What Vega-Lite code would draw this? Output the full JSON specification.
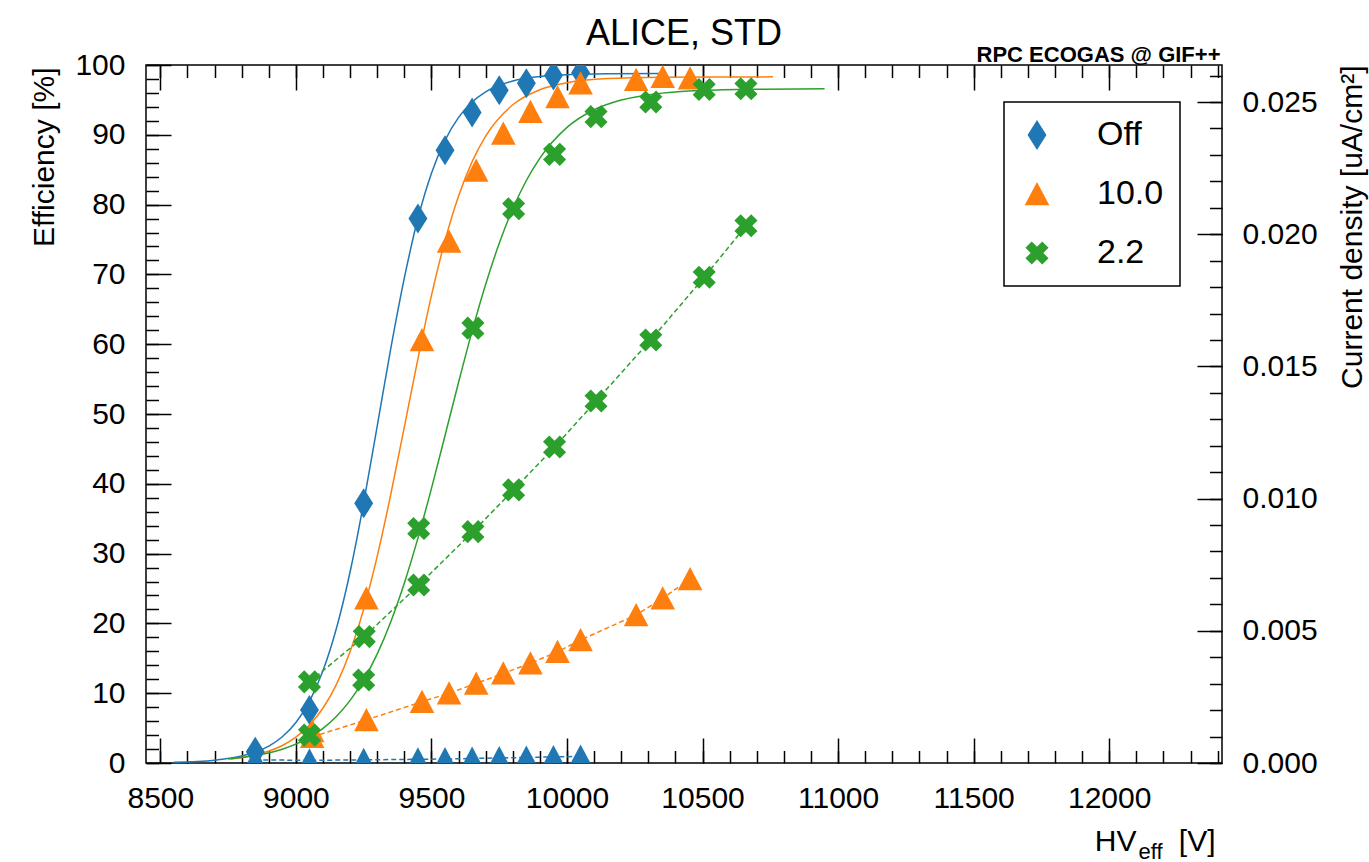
{
  "$schema": "https://vega.github.io/schema/vega-lite/v6.json",
  "width": 1076,
  "height": 698,
  "autosize": "none",
  "padding": {"left": 146, "top": 65, "right": 147, "bottom": 99},
  "background": "white",
  "title": {"text": "ALICE, STD", "fontSize": 36, "font": "Liberation Sans", "fontWeight": "normal", "frame": "group", "offset": -10, "anchor": "middle", "color": "black"},
  "config": {
    "view": {"stroke": "black", "strokeWidth": 1.5},
    "axis": {"grid": false, "domain": false, "tickColor": "black", "tickWidth": 1.5, "labelFont": "Liberation Sans", "labelFontSize": 30, "labelColor": "black", "titleFont": "Liberation Sans", "titleFontSize": 30, "titleFontWeight": "normal", "titleColor": "black", "labelFlush": false, "labelOverlap": false, "labelBound": false},
    "legend": {"orient": "none", "legendX": 858, "legendY": 37, "padding": 16, "strokeColor": "black", "strokeWidth": 1.5, "fillColor": "white", "labelFont": "Liberation Sans", "labelFontSize": 34, "labelColor": "black", "symbolSize": 900, "rowPadding": 25, "labelOffset": 43, "symbolStrokeWidth": 0, "symbolOpacity": 1}
  },
  "datasets": {
    "fit": [
      {"src": "Off", "hv": 8550, "eff": 0.10}, {"src": "Off", "hv": 8700, "eff": 0.40}, {"src": "Off", "hv": 8800, "eff": 0.99},
      {"src": "Off", "hv": 8900, "eff": 2.42}, {"src": "Off", "hv": 8950, "eff": 3.76}, {"src": "Off", "hv": 9000, "eff": 5.80},
      {"src": "Off", "hv": 9050, "eff": 8.84}, {"src": "Off", "hv": 9100, "eff": 13.24}, {"src": "Off", "hv": 9150, "eff": 19.37},
      {"src": "Off", "hv": 9200, "eff": 27.4}, {"src": "Off", "hv": 9250, "eff": 37.3}, {"src": "Off", "hv": 9300, "eff": 48.3},
      {"src": "Off", "hv": 9350, "eff": 59.4}, {"src": "Off", "hv": 9400, "eff": 69.5}, {"src": "Off", "hv": 9450, "eff": 78.0},
      {"src": "Off", "hv": 9500, "eff": 84.5}, {"src": "Off", "hv": 9550, "eff": 89.2}, {"src": "Off", "hv": 9600, "eff": 92.5},
      {"src": "Off", "hv": 9650, "eff": 94.7}, {"src": "Off", "hv": 9700, "eff": 96.16}, {"src": "Off", "hv": 9800, "eff": 97.72},
      {"src": "Off", "hv": 9900, "eff": 98.36}, {"src": "Off", "hv": 10000, "eff": 98.62}, {"src": "Off", "hv": 10150, "eff": 98.75},
      {"src": "Off", "hv": 10350, "eff": 98.79},
      {"src": "10.0", "hv": 8760, "eff": 0.56}, {"src": "10.0", "hv": 8850, "eff": 1.15}, {"src": "10.0", "hv": 8950, "eff": 2.51},
      {"src": "10.0", "hv": 9000, "eff": 3.71}, {"src": "10.0", "hv": 9050, "eff": 5.43}, {"src": "10.0", "hv": 9100, "eff": 7.88},
      {"src": "10.0", "hv": 9150, "eff": 11.31}, {"src": "10.0", "hv": 9200, "eff": 15.97}, {"src": "10.0", "hv": 9250, "eff": 22.06},
      {"src": "10.0", "hv": 9300, "eff": 29.64}, {"src": "10.0", "hv": 9350, "eff": 38.5}, {"src": "10.0", "hv": 9400, "eff": 48.17},
      {"src": "10.0", "hv": 9450, "eff": 57.9}, {"src": "10.0", "hv": 9500, "eff": 66.99}, {"src": "10.0", "hv": 9550, "eff": 74.84},
      {"src": "10.0", "hv": 9600, "eff": 81.23}, {"src": "10.0", "hv": 9650, "eff": 86.16}, {"src": "10.0", "hv": 9700, "eff": 89.82},
      {"src": "10.0", "hv": 9800, "eff": 94.30}, {"src": "10.0", "hv": 9900, "eff": 96.46}, {"src": "10.0", "hv": 10000, "eff": 97.46},
      {"src": "10.0", "hv": 10150, "eff": 98.05}, {"src": "10.0", "hv": 10350, "eff": 98.25}, {"src": "10.0", "hv": 10550, "eff": 98.29},
      {"src": "10.0", "hv": 10760, "eff": 98.3},
      {"src": "2.2", "hv": 8750, "eff": 0.56}, {"src": "2.2", "hv": 8850, "eff": 1.06}, {"src": "2.2", "hv": 8950, "eff": 1.98},
      {"src": "2.2", "hv": 9050, "eff": 3.67}, {"src": "2.2", "hv": 9100, "eff": 4.97}, {"src": "2.2", "hv": 9150, "eff": 6.70},
      {"src": "2.2", "hv": 9200, "eff": 8.97}, {"src": "2.2", "hv": 9250, "eff": 11.91}, {"src": "2.2", "hv": 9300, "eff": 15.63},
      {"src": "2.2", "hv": 9350, "eff": 20.25}, {"src": "2.2", "hv": 9400, "eff": 25.79}, {"src": "2.2", "hv": 9450, "eff": 32.22},
      {"src": "2.2", "hv": 9500, "eff": 39.35}, {"src": "2.2", "hv": 9550, "eff": 46.92}, {"src": "2.2", "hv": 9600, "eff": 54.55},
      {"src": "2.2", "hv": 9650, "eff": 61.88}, {"src": "2.2", "hv": 9700, "eff": 68.58}, {"src": "2.2", "hv": 9750, "eff": 74.46},
      {"src": "2.2", "hv": 9800, "eff": 79.41}, {"src": "2.2", "hv": 9850, "eff": 83.45}, {"src": "2.2", "hv": 9900, "eff": 86.66},
      {"src": "2.2", "hv": 10000, "eff": 91.06}, {"src": "2.2", "hv": 10100, "eff": 93.59}, {"src": "2.2", "hv": 10200, "eff": 94.98},
      {"src": "2.2", "hv": 10350, "eff": 95.97}, {"src": "2.2", "hv": 10500, "eff": 96.36}, {"src": "2.2", "hv": 10700, "eff": 96.53},
      {"src": "2.2", "hv": 10950, "eff": 96.59}
    ],
    "eff": [
      {"src": "Off", "hv": 8850, "eff": 1.6}, {"src": "Off", "hv": 9050, "eff": 7.6}, {"src": "Off", "hv": 9250, "eff": 37.2},
      {"src": "Off", "hv": 9450, "eff": 78.0}, {"src": "Off", "hv": 9550, "eff": 87.8}, {"src": "Off", "hv": 9650, "eff": 93.2},
      {"src": "Off", "hv": 9750, "eff": 96.4}, {"src": "Off", "hv": 9850, "eff": 97.4}, {"src": "Off", "hv": 9950, "eff": 98.5},
      {"src": "Off", "hv": 10050, "eff": 98.9},
      {"src": "10.0", "hv": 9060, "eff": 4.6}, {"src": "10.0", "hv": 9260, "eff": 23.6}, {"src": "10.0", "hv": 9465, "eff": 60.6},
      {"src": "10.0", "hv": 9565, "eff": 74.7}, {"src": "10.0", "hv": 9665, "eff": 84.9}, {"src": "10.0", "hv": 9765, "eff": 90.2},
      {"src": "10.0", "hv": 9865, "eff": 93.3}, {"src": "10.0", "hv": 9965, "eff": 95.4}, {"src": "10.0", "hv": 10050, "eff": 97.4},
      {"src": "10.0", "hv": 10255, "eff": 97.9}, {"src": "10.0", "hv": 10353, "eff": 98.3}, {"src": "10.0", "hv": 10454, "eff": 98.1},
      {"src": "2.2", "hv": 9050, "eff": 4.0}, {"src": "2.2", "hv": 9250, "eff": 11.9}, {"src": "2.2", "hv": 9453, "eff": 33.6},
      {"src": "2.2", "hv": 9653, "eff": 62.3}, {"src": "2.2", "hv": 9803, "eff": 79.4}, {"src": "2.2", "hv": 9954, "eff": 87.2},
      {"src": "2.2", "hv": 10107, "eff": 92.6}, {"src": "2.2", "hv": 10309, "eff": 94.7}, {"src": "2.2", "hv": 10506, "eff": 96.5},
      {"src": "2.2", "hv": 10660, "eff": 96.6}
    ],
    "cur": [
      {"src": "Off", "hv": 8850, "cur": 0.00012}, {"src": "Off", "hv": 9050, "cur": 0.00010}, {"src": "Off", "hv": 9250, "cur": 0.00012},
      {"src": "Off", "hv": 9450, "cur": 0.00014}, {"src": "Off", "hv": 9550, "cur": 0.00015}, {"src": "Off", "hv": 9650, "cur": 0.00017},
      {"src": "Off", "hv": 9750, "cur": 0.00019}, {"src": "Off", "hv": 9850, "cur": 0.00021}, {"src": "Off", "hv": 9950, "cur": 0.00023},
      {"src": "Off", "hv": 10050, "cur": 0.00025},
      {"src": "10.0", "hv": 9060, "cur": 0.00099}, {"src": "10.0", "hv": 9260, "cur": 0.00163}, {"src": "10.0", "hv": 9465, "cur": 0.00232},
      {"src": "10.0", "hv": 9565, "cur": 0.00264}, {"src": "10.0", "hv": 9665, "cur": 0.00301}, {"src": "10.0", "hv": 9765, "cur": 0.00339},
      {"src": "10.0", "hv": 9865, "cur": 0.00377}, {"src": "10.0", "hv": 9965, "cur": 0.00421}, {"src": "10.0", "hv": 10050, "cur": 0.00465},
      {"src": "10.0", "hv": 10255, "cur": 0.00560}, {"src": "10.0", "hv": 10353, "cur": 0.00623}, {"src": "10.0", "hv": 10454, "cur": 0.00696},
      {"src": "2.2", "hv": 9050, "cur": 0.00307}, {"src": "2.2", "hv": 9252, "cur": 0.00478}, {"src": "2.2", "hv": 9453, "cur": 0.00673},
      {"src": "2.2", "hv": 9653, "cur": 0.00875}, {"src": "2.2", "hv": 9803, "cur": 0.01033}, {"src": "2.2", "hv": 9954, "cur": 0.01195},
      {"src": "2.2", "hv": 10107, "cur": 0.01369}, {"src": "2.2", "hv": 10309, "cur": 0.01600}, {"src": "2.2", "hv": 10506, "cur": 0.01837},
      {"src": "2.2", "hv": 10660, "cur": 0.02032}
    ]
  },
  "resolve": {
    "scale": {"x": "independent", "y": "independent"},
    "axis": {"x": "independent", "y": "independent"}
  },
  "layer": [
    {
      "data": {"name": "fit"},
      "mark": {"type": "line", "interpolate": "monotone", "strokeWidth": 1.5, "clip": true},
      "encoding": {
        "x": {"field": "hv", "type": "quantitative", "scale": {"domain": [8447, 12416], "nice": false, "zero": false},
          "axis": {"orient": "bottom", "values": [8500, 9000, 9500, 10000, 10500, 11000, 11500, 12000], "format": "d", "tickSize": -25, "labelPadding": 45,
            "title": "HV", "titleX": 990, "titleY": 87, "titleAlign": "right", "titleBaseline": "alphabetic", "titleFontSize": 30}},
        "y": {"field": "eff", "type": "quantitative", "scale": {"domain": [0, 100], "nice": false, "zero": false},
          "axis": {"orient": "left", "values": [0, 10, 20, 30, 40, 50, 60, 70, 80, 90, 100], "format": "d", "tickSize": -25, "labelPadding": 46,
            "title": "Efficiency [%]", "titleAngle": -90, "titleX": -102, "titleY": 2, "titleAlign": "right", "titleBaseline": "middle"}},
        "color": {"field": "src", "type": "nominal", "scale": {"domain": ["Off", "10.0", "2.2"], "range": ["#1f77b4", "#ff7f0e", "#2ca02c"]}, "legend": {"title": null}},
        "detail": {"field": "src"}
      }
    },
    {
      "data": {"name": "cur"},
      "transform": [{"filter": "datum.src !== 'Off'"}],
      "mark": {"type": "line", "strokeWidth": 1.5, "strokeDash": [5, 3]},
      "encoding": {
        "x": {"field": "hv", "type": "quantitative", "scale": {"domain": [8447, 12416], "nice": false, "zero": false},
          "axis": {"orient": "top", "values": [8500, 9000, 9500, 10000, 10500, 11000, 11500, 12000], "tickSize": -25, "labels": false,
            "title": "RPC ECOGAS @ GIF++", "titleX": 1074, "titleY": -4, "titleAlign": "right", "titleBaseline": "alphabetic", "titleFontSize": 22, "titleFontWeight": "bold"}},
        "y": {"field": "cur", "type": "quantitative", "scale": {"domain": [0, 0.0264], "nice": false, "zero": false},
          "axis": {"orient": "right", "values": [0, 0.005, 0.01, 0.015, 0.02, 0.025], "format": ".3f", "tickSize": -25, "labelPadding": 45,
            "title": "Current density [uA/cm²]", "titleAngle": -90, "titleX": 130, "titleY": 0, "titleAlign": "right", "titleBaseline": "middle"}},
        "color": {"field": "src", "type": "nominal", "scale": {"domain": ["Off", "10.0", "2.2"], "range": ["#1f77b4", "#ff7f0e", "#2ca02c"]}, "legend": {"title": null}},
        "detail": {"field": "src"}
      }
    },
    {
      "data": {"name": "cur"},
      "transform": [{"filter": "datum.src === 'Off'"}],
      "mark": {"type": "line", "strokeWidth": 1.5, "strokeDash": [5, 3]},
      "encoding": {
        "x": {"field": "hv", "type": "quantitative", "scale": {"domain": [8447, 12416], "nice": false, "zero": false},
          "axis": {"orient": "bottom", "ticks": false, "labels": false, "title": "[V]", "titleX": 1069, "titleY": 87, "titleAlign": "right", "titleBaseline": "alphabetic", "titleFontSize": 30}},
        "y": {"field": "cur", "type": "quantitative", "scale": {"domain": [0, 0.0264], "nice": false, "zero": false}, "axis": null},
        "color": {"field": "src", "type": "nominal", "scale": {"domain": ["Off", "10.0", "2.2"], "range": ["#1f77b4", "#ff7f0e", "#2ca02c"]}, "legend": {"title": null}}
      }
    },
    {
      "data": {"name": "cur"},
      "transform": [{"filter": "datum.src === 'Off'"}],
      "mark": {"type": "point", "filled": true, "opacity": 1, "size": 900, "clip": true, "shape": "M0,-0.8L0.82,0.75L-0.82,0.75Z"},
      "encoding": {
        "x": {"field": "hv", "type": "quantitative", "scale": {"domain": [8447, 12416], "nice": false, "zero": false}, "axis": null},
        "y": {"field": "cur", "type": "quantitative", "scale": {"domain": [0, 0.0264], "nice": false, "zero": false}, "axis": null},
        "color": {"field": "src", "type": "nominal", "scale": {"domain": ["Off", "10.0", "2.2"], "range": ["#1f77b4", "#ff7f0e", "#2ca02c"]}, "legend": {"title": null}}
      }
    },
    {
      "data": {"name": "cur"},
      "transform": [{"filter": "datum.src !== 'Off'"}],
      "mark": {"type": "point", "filled": true, "opacity": 1, "size": 900, "clip": true},
      "encoding": {
        "x": {"field": "hv", "type": "quantitative", "scale": {"domain": [8447, 12416], "nice": false, "zero": false},
          "axis": {"orient": "top", "values": [8500, 8600, 8700, 8800, 8900, 9000, 9100, 9200, 9300, 9400, 9500, 9600, 9700, 9800, 9900, 10000, 10100, 10200, 10300, 10400, 10500, 10600, 10700, 10800, 10900, 11000, 11100, 11200, 11300, 11400, 11500, 11600, 11700, 11800, 11900, 12000, 12100, 12200, 12300, 12400], "tickSize": -12.5, "labels": false, "title": null}},
        "y": {"field": "cur", "type": "quantitative", "scale": {"domain": [0, 0.0264], "nice": false, "zero": false},
          "axis": {"orient": "right", "values": [0, 0.001, 0.002, 0.003, 0.004, 0.005, 0.006, 0.007, 0.008, 0.009, 0.01, 0.011, 0.012, 0.013, 0.014, 0.015, 0.016, 0.017, 0.018, 0.019, 0.02, 0.021, 0.022, 0.023, 0.024, 0.025, 0.026], "tickSize": -12.5, "labels": false, "title": null}},
        "color": {"field": "src", "type": "nominal", "scale": {"domain": ["Off", "10.0", "2.2"], "range": ["#1f77b4", "#ff7f0e", "#2ca02c"]}, "legend": {"title": null}},
        "shape": {"field": "src", "type": "nominal", "legend": {"title": null},
          "scale": {"domain": ["Off", "10.0", "2.2"], "range": ["M0,-1L0.63,0L0,1L-0.63,0Z", "M0,-0.8L0.82,0.75L-0.82,0.75Z", "M-0.35,-0.77L0,-0.42L0.35,-0.77L0.77,-0.35L0.42,0L0.77,0.35L0.35,0.77L0,0.42L-0.35,0.77L-0.77,0.35L-0.42,0L-0.77,-0.35Z"]}}
      }
    },
    {
      "data": {"name": "eff"},
      "mark": {"type": "point", "filled": true, "opacity": 1, "size": 900, "clip": true},
      "encoding": {
        "x": {"field": "hv", "type": "quantitative", "scale": {"domain": [8447, 12416], "nice": false, "zero": false},
          "axis": {"orient": "bottom", "values": [8500, 8600, 8700, 8800, 8900, 9000, 9100, 9200, 9300, 9400, 9500, 9600, 9700, 9800, 9900, 10000, 10100, 10200, 10300, 10400, 10500, 10600, 10700, 10800, 10900, 11000, 11100, 11200, 11300, 11400, 11500, 11600, 11700, 11800, 11900, 12000, 12100, 12200, 12300, 12400], "tickSize": -12.5, "labels": false,
            "title": "eff", "titleX": 992, "titleY": 95, "titleAlign": "left", "titleBaseline": "alphabetic", "titleFontSize": 22}},
        "y": {"field": "eff", "type": "quantitative", "scale": {"domain": [0, 100], "nice": false, "zero": false},
          "axis": {"orient": "left", "values": [0, 2, 4, 6, 8, 10, 12, 14, 16, 18, 20, 22, 24, 26, 28, 30, 32, 34, 36, 38, 40, 42, 44, 46, 48, 50, 52, 54, 56, 58, 60, 62, 64, 66, 68, 70, 72, 74, 76, 78, 80, 82, 84, 86, 88, 90, 92, 94, 96, 98, 100], "tickSize": -12.5, "labels": false, "title": null}},
        "color": {"field": "src", "type": "nominal", "scale": {"domain": ["Off", "10.0", "2.2"], "range": ["#1f77b4", "#ff7f0e", "#2ca02c"]}, "legend": {"title": null}},
        "shape": {"field": "src", "type": "nominal", "legend": {"title": null},
          "scale": {"domain": ["Off", "10.0", "2.2"], "range": ["M0,-1L0.63,0L0,1L-0.63,0Z", "M0,-0.8L0.82,0.75L-0.82,0.75Z", "M-0.35,-0.77L0,-0.42L0.35,-0.77L0.77,-0.35L0.42,0L0.77,0.35L0.35,0.77L0,0.42L-0.35,0.77L-0.77,0.35L-0.42,0L-0.77,-0.35Z"]}}
      }
    }
  ]
}
